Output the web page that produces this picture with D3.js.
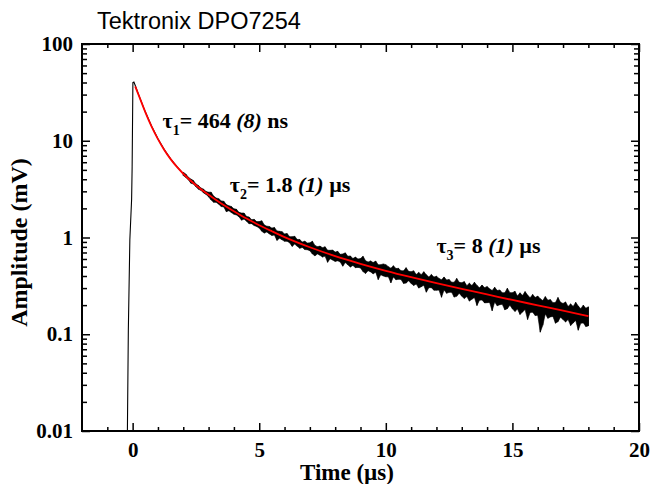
<!DOCTYPE html>
<html>
<head>
<meta charset="utf-8">
<script src="https://cdnjs.cloudflare.com/ajax/libs/d3/7.8.5/d3.min.js"></script>
<style>
  html, body { margin: 0; padding: 0; background: #fff; }
  svg { display: block; }
  .serif { font-family: "Liberation Serif", "Times New Roman", serif; font-weight: bold; fill: #000; }
  .tick text { font-family: "Liberation Serif", "Times New Roman", serif; font-weight: bold; font-size: 21px; fill: #000; }
  .tick line { stroke: #000; stroke-width: 1.5; }
</style>
</head>
<body>
<svg id="chart" width="652" height="484"></svg>
<script>
// ---- axis ticks ----
const xMajor = [0, 5, 10, 15, 20];
const xMajorLabels = ["0", "5", "10", "15", "20"];
const xMinor = [-1, 1, 2, 3, 4, 6, 7, 8, 9, 11, 12, 13, 14, 16, 17, 18, 19];
const yMajor = [0.01, 0.1, 1, 10, 100];
const yMajorLabels = ["0.01", "0.1", "1", "10", "100"];
const yMinorMultipliers = [2, 3, 4, 5, 6, 7, 8, 9];

// ---- recorded trace: leading edge and early decay (time in µs, amplitude in mV) ----
const headTime = [-0.21, -0.17, -0.11, -0.04, -0.02, 0.01, 0.05, 0.1, 0.25, 0.5, 0.75, 1.0, 1.25, 1.5, 1.75, 2.0];
const headAmp  = [0.008, 0.11, 0.95, 2.5, 5.3, 40, 40.5, 37.5, 29.3, 19.9, 14.1, 10.5, 8.1, 6.5, 5.4, 4.56];

// ---- recorded trace: noisy tail, peak-detect envelope per 0.1 µs bin ----
const tailTime = [
  2.0, 2.1, 2.2, 2.3, 2.4, 2.5, 2.6, 2.7, 2.8, 2.9,
  3.0, 3.1, 3.2, 3.3, 3.4, 3.5, 3.6, 3.7, 3.8, 3.9,
  4.0, 4.1, 4.2, 4.3, 4.4, 4.5, 4.6, 4.7, 4.8, 4.9,
  5.0, 5.1, 5.2, 5.3, 5.4, 5.5, 5.6, 5.7, 5.8, 5.9,
  6.0, 6.1, 6.2, 6.3, 6.4, 6.5, 6.6, 6.7, 6.8, 6.9,
  7.0, 7.1, 7.2, 7.3, 7.4, 7.5, 7.6, 7.7, 7.8, 7.9,
  8.0, 8.1, 8.2, 8.3, 8.4, 8.5, 8.6, 8.7, 8.8, 8.9,
  9.0, 9.1, 9.2, 9.3, 9.4, 9.5, 9.6, 9.7, 9.8, 9.9,
  10.0, 10.1, 10.2, 10.3, 10.4, 10.5, 10.6, 10.7, 10.8, 10.9,
  11.0, 11.1, 11.2, 11.3, 11.4, 11.5, 11.6, 11.7, 11.8, 11.9,
  12.0, 12.1, 12.2, 12.3, 12.4, 12.5, 12.6, 12.7, 12.8, 12.9,
  13.0, 13.1, 13.2, 13.3, 13.4, 13.5, 13.6, 13.7, 13.8, 13.9,
  14.0, 14.1, 14.2, 14.3, 14.4, 14.5, 14.6, 14.7, 14.8, 14.9,
  15.0, 15.1, 15.2, 15.3, 15.4, 15.5, 15.6, 15.7, 15.8, 15.9,
  16.0, 16.1, 16.2, 16.3, 16.4, 16.5, 16.6, 16.7, 16.8, 16.9,
  17.0, 17.1, 17.2, 17.3, 17.4, 17.5, 17.6, 17.7, 17.8, 17.9,
  18.0
];
const tailMax = [
  4.72, 4.53, 4.20, 4.02, 3.88, 3.58, 3.45, 3.25, 3.16, 2.99,
  2.94, 2.94, 2.68, 2.56, 2.52, 2.39, 2.37, 2.19, 2.13, 2.09,
  1.98, 1.96, 1.82, 1.79, 1.79, 1.65, 1.63, 1.53, 1.54, 1.46,
  1.46, 1.49, 1.35, 1.31, 1.30, 1.25, 1.27, 1.17, 1.16, 1.15,
  1.09, 1.10, 1.02, 1.02, 1.03, 0.955, 0.954, 0.898, 0.917, 0.877,
  0.880, 0.916, 0.828, 0.804, 0.815, 0.784, 0.803, 0.739, 0.737, 0.741,
  0.707, 0.719, 0.670, 0.676, 0.694, 0.640, 0.645, 0.606, 0.627, 0.600,
  0.606, 0.640, 0.574, 0.558, 0.573, 0.551, 0.571, 0.522, 0.524, 0.533,
  0.524, 0.500, 0.482, 0.511, 0.478, 0.480, 0.454, 0.452, 0.488, 0.447,
  0.443, 0.453, 0.415, 0.436, 0.413, 0.443, 0.412, 0.391, 0.415, 0.390,
  0.398, 0.378, 0.365, 0.391, 0.364, 0.368, 0.345, 0.345, 0.378, 0.344,
  0.341, 0.350, 0.318, 0.337, 0.319, 0.345, 0.320, 0.302, 0.323, 0.303,
  0.311, 0.295, 0.283, 0.306, 0.283, 0.287, 0.268, 0.269, 0.299, 0.269,
  0.269, 0.278, 0.249, 0.268, 0.252, 0.276, 0.254, 0.238, 0.258, 0.240,
  0.248, 0.233, 0.223, 0.245, 0.225, 0.228, 0.212, 0.213, 0.240, 0.214,
  0.208, 0.216, 0.194, 0.206, 0.194, 0.214, 0.196, 0.184, 0.200, 0.186,
  0.192
];
const tailMin = [
  4.37, 4.18, 3.95, 3.64, 3.57, 3.34, 3.15, 3.07, 2.89, 2.79,
  2.63, 2.44, 2.31, 2.31, 2.21, 2.09, 2.07, 1.85, 1.89, 1.81,
  1.74, 1.71, 1.64, 1.51, 1.55, 1.47, 1.39, 1.39, 1.33, 1.30,
  1.25, 1.16, 1.11, 1.14, 1.09, 1.05, 1.06, 0.933, 0.984, 0.948,
  0.913, 0.914, 0.883, 0.809, 0.855, 0.813, 0.773, 0.789, 0.751, 0.747,
  0.730, 0.675, 0.646, 0.677, 0.655, 0.627, 0.642, 0.554, 0.603, 0.584,
  0.566, 0.574, 0.558, 0.505, 0.550, 0.522, 0.495, 0.515, 0.488, 0.491,
  0.484, 0.444, 0.425, 0.454, 0.441, 0.421, 0.438, 0.367, 0.412, 0.400,
  0.393, 0.392, 0.340, 0.391, 0.366, 0.370, 0.369, 0.335, 0.338, 0.357,
  0.335, 0.319, 0.330, 0.300, 0.310, 0.321, 0.272, 0.303, 0.303, 0.285,
  0.285, 0.286, 0.241, 0.287, 0.265, 0.271, 0.271, 0.242, 0.247, 0.265,
  0.247, 0.234, 0.245, 0.220, 0.230, 0.240, 0.198, 0.225, 0.226, 0.211,
  0.212, 0.213, 0.175, 0.215, 0.197, 0.202, 0.204, 0.179, 0.184, 0.200,
  0.183, 0.172, 0.182, 0.160, 0.170, 0.180, 0.142, 0.168, 0.169, 0.156,
  0.157, 0.105, 0.124, 0.162, 0.146, 0.151, 0.153, 0.130, 0.135, 0.150,
  0.142, 0.134, 0.142, 0.123, 0.131, 0.139, 0.110, 0.130, 0.131, 0.120,
  0.122
];

// ---- three-exponential fit curve ----
const fitTime = [0.1, 0.25, 0.5, 0.75, 1.0, 1.25, 1.5, 1.75, 2.0, 2.5, 3.0, 3.5, 4.0, 4.5, 5.0,
                 5.5, 6.0, 6.5, 7.0, 8.0, 9.0, 10.0, 11.0, 12.0, 13.0, 14.0, 15.0, 16.0, 17.0, 18.0];
const fitAmp  = [36.5, 29.1, 19.8, 14.0, 10.4, 8.04, 6.46, 5.36, 4.56, 3.47, 2.76, 2.25, 1.87, 1.57, 1.34,
                 1.16, 1.01, 0.891, 0.793, 0.643, 0.535, 0.453, 0.389, 0.337, 0.294, 0.258, 0.226, 0.199, 0.175, 0.154];

// ---- fit annotations ----
const tauSubs   = ["1", "2", "3"];
const tauValues = ["464", "1.8", "8"];
const tauErrors = ["(8)", "(1)", "(1)"];
const tauUnits  = ["ns", "µs", "µs"];
const tauAnchor = [[1.18, 13.5], [3.84, 2.97], [12.0, 0.697]]; // [time, amplitude] at each label's baseline start

// ---- layout ----
const svg = d3.select("#chart");
const plot = { left: 82, top: 44, right: 639, bottom: 431 };

const x = d3.scaleLinear().domain([-2, 20]).range([plot.left, plot.right]);
const y = d3.scaleLog().domain([0.01, 100]).range([plot.bottom, plot.top]);

const yMinor = yMajor.slice(0, -1).flatMap(d => yMinorMultipliers.map(k => k * d));

svg.append("defs").append("clipPath").attr("id", "plotClip")
  .append("rect")
  .attr("x", plot.left).attr("y", plot.top)
  .attr("width", plot.right - plot.left).attr("height", plot.bottom - plot.top);

// axes: ticks point inward on all four sides
function axisGroup(axis, tx, ty) {
  const g = svg.append("g").attr("transform", `translate(${tx},${ty})`).call(axis);
  g.select(".domain").remove();
  return g;
}

axisGroup(d3.axisBottom(x).tickValues(xMajor).tickSize(-8).tickPadding(11)
  .tickFormat((d, i) => xMajorLabels[i]), 0, plot.bottom);
axisGroup(d3.axisBottom(x).tickValues(xMinor).tickSize(-4).tickFormat(""), 0, plot.bottom);
axisGroup(d3.axisTop(x).tickValues(xMajor).tickSize(-8).tickFormat(""), 0, plot.top);
axisGroup(d3.axisTop(x).tickValues(xMinor).tickSize(-4).tickFormat(""), 0, plot.top);

axisGroup(d3.axisLeft(y).tickValues(yMajor).tickSize(-8).tickPadding(9)
  .tickFormat((d, i) => yMajorLabels[i]), plot.left, 0);
axisGroup(d3.axisLeft(y).tickValues(yMinor).tickSize(-5).tickFormat(""), plot.left, 0);
axisGroup(d3.axisRight(y).tickValues(yMajor).tickSize(-8).tickFormat(""), plot.right, 0);
axisGroup(d3.axisRight(y).tickValues(yMinor).tickSize(-5).tickFormat(""), plot.right, 0);

// data layer
const dataLayer = svg.append("g").attr("clip-path", "url(#plotClip)");

// leading edge and early decay as a single line
dataLayer.append("path")
  .datum(headTime.map((t, i) => [t, headAmp[i]]))
  .attr("fill", "none")
  .attr("stroke", "#000")
  .attr("stroke-width", 1.1)
  .attr("d", d3.line().x(d => x(d[0])).y(d => y(d[1])));

// noisy tail: filled band between the per-bin minimum and maximum, plus one stroke per bin
const tail = tailTime.map((t, i) => ({ t, lo: tailMin[i], hi: tailMax[i] }));
dataLayer.append("path")
  .datum(tail)
  .attr("fill", "#000")
  .attr("stroke", "#000")
  .attr("stroke-width", 0.6)
  .attr("d", d3.area().x(d => x(d.t)).y0(d => y(d.lo)).y1(d => y(d.hi)));

dataLayer.append("g").selectAll("line")
  .data(tail)
  .join("line")
  .attr("x1", d => x(d.t)).attr("x2", d => x(d.t))
  .attr("y1", d => y(d.lo)).attr("y2", d => y(d.hi))
  .attr("stroke", "#000").attr("stroke-width", 1);

// fit
dataLayer.append("path")
  .datum(fitTime.map((t, i) => [t, fitAmp[i]]))
  .attr("fill", "none")
  .attr("stroke", "#ff0000")
  .attr("stroke-width", 1.8)
  .attr("d", d3.line().curve(d3.curveMonotoneX).x(d => x(d[0])).y(d => y(d[1])));

// frame
svg.append("rect")
  .attr("x", plot.left).attr("y", plot.top)
  .attr("width", plot.right - plot.left).attr("height", plot.bottom - plot.top)
  .attr("fill", "none").attr("stroke", "#000").attr("stroke-width", 2);

// fit parameter labels
tauSubs.forEach((s, i) => {
  const t = svg.append("text").attr("class", "serif")
    .attr("x", x(tauAnchor[i][0])).attr("y", y(tauAnchor[i][1]))
    .attr("font-size", 22);
  t.append("tspan").text("τ");
  t.append("tspan").attr("font-size", 14).attr("dy", 7).text(s);
  t.append("tspan").attr("dy", -7).text("= " + tauValues[i] + " ");
  t.append("tspan").attr("font-style", "italic").text(tauErrors[i]);
  t.append("tspan").text(" " + tauUnits[i]);
});

// titles
svg.append("text")
  .attr("x", 97).attr("y", 29)
  .attr("font-family", "'Liberation Sans', Arial, sans-serif")
  .attr("font-size", 23.5)
  .attr("fill", "#000")
  .text("Tektronix DPO7254");

svg.append("text").attr("class", "serif")
  .attr("x", 347).attr("y", 480)
  .attr("text-anchor", "middle").attr("font-size", 23)
  .text("Time (µs)");

svg.append("text").attr("class", "serif")
  .attr("transform", "translate(27,242.5) rotate(-90)")
  .attr("text-anchor", "middle").attr("font-size", 24)
  .text("Amplitude (mV)");
</script>
</body>
</html>
